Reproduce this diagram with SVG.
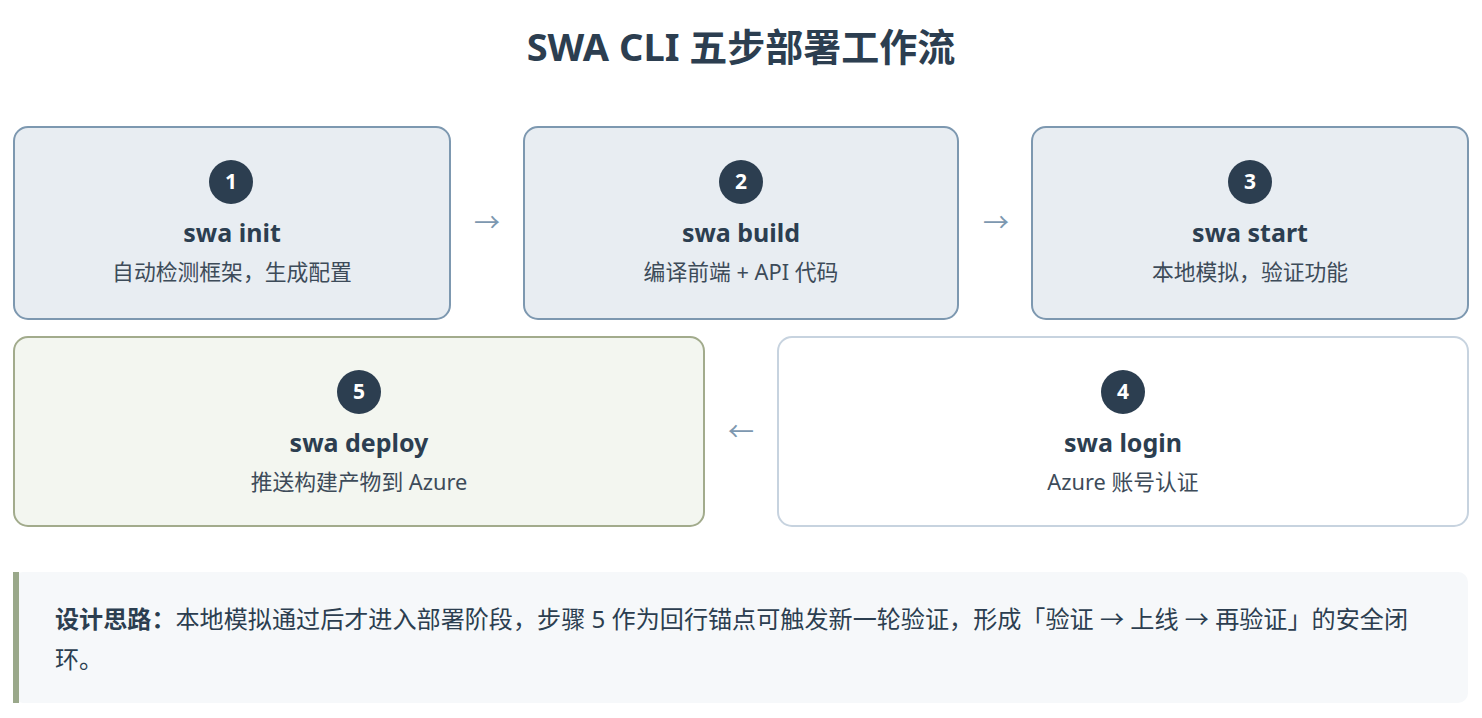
<svg xmlns="http://www.w3.org/2000/svg" width="1482" height="718" viewBox="0 0 1482 718">
<style>
text{font-family:"Noto Sans","Noto Sans CJK SC",sans-serif;fill:#2c3e50;text-anchor:middle}
.b{fill:#e8edf2;stroke:#7d98b0;stroke-width:2}
.w{fill:#fff;stroke:#c7d3df;stroke-width:2}
.g{fill:#f3f6f0;stroke:#a2ab8c;stroke-width:2}
.c{fill:#2c3e50}
.n{fill:#fff;font-size:21px;font-weight:700}
.t{font-size:25px;font-weight:700}
.s{font-size:21.8px;fill:#3d4b59}
.a{font-size:26px;fill:#7d98b0}
</style>
<rect width="1482" height="718" fill="#fff"/>
<text x="741" y="61" style="font-size:38px;font-weight:700">SWA CLI 五步部署工作流</text>
<g id="n1"><rect class="b" x="14" y="127" width="436" height="192" rx="14"/><circle class="c" cx="231" cy="182" r="22"/><text class="n" x="231" y="189">1</text><text class="t" x="232" y="242">swa init</text><text class="s" x="232" y="280">自动检测框架，生成配置</text></g>
<g id="n2"><rect class="b" x="524" y="127" width="434" height="192" rx="14"/><circle class="c" cx="741" cy="182" r="22"/><text class="n" x="741" y="189">2</text><text class="t" x="741" y="242">swa build</text><text class="s" x="741" y="280">编译前端 + API 代码</text></g>
<g id="n3"><rect class="b" x="1032" y="127" width="436" height="192" rx="14"/><circle class="c" cx="1250" cy="182" r="22"/><text class="n" x="1250" y="189">3</text><text class="t" x="1250" y="242">swa start</text><text class="s" x="1250" y="280">本地模拟，验证功能</text></g>
<g id="n4"><rect class="w" x="778" y="337" width="690" height="189" rx="14"/><circle class="c" cx="1123" cy="392" r="22"/><text class="n" x="1123" y="399">4</text><text class="t" x="1123" y="452">swa login</text><text class="s" x="1123" y="490">Azure 账号认证</text></g>
<g id="n5"><rect class="g" x="14" y="337" width="690" height="189" rx="14"/><circle class="c" cx="359" cy="392" r="22"/><text class="n" x="359" y="399">5</text><text class="t" x="359" y="452">swa deploy</text><text class="s" x="359" y="490">推送构建产物到 Azure</text></g>
<g id="connectors"><text class="a" x="487" y="232">→</text><text class="a" x="996" y="232">→</text><text class="a" x="741" y="441">←</text></g>
<g id="note"><rect x="13" y="572" width="1455" height="131" rx="10" fill="#f6f8fa"/><rect x="13" y="572" width="6" height="131" fill="#9aa88a"/>
<text x="55" y="628" textLength="1353" lengthAdjust="spacingAndGlyphs" style="text-anchor:start;font-size:24px"><tspan font-weight="700">设计思路：</tspan>本地模拟通过后才进入部署阶段，步骤 5 作为回行锚点可触发新一轮验证，形成「验证 → 上线 → 再验证」的安全闭</text>
<text x="55" y="668" style="text-anchor:start;font-size:24px">环。</text></g>
</svg>
